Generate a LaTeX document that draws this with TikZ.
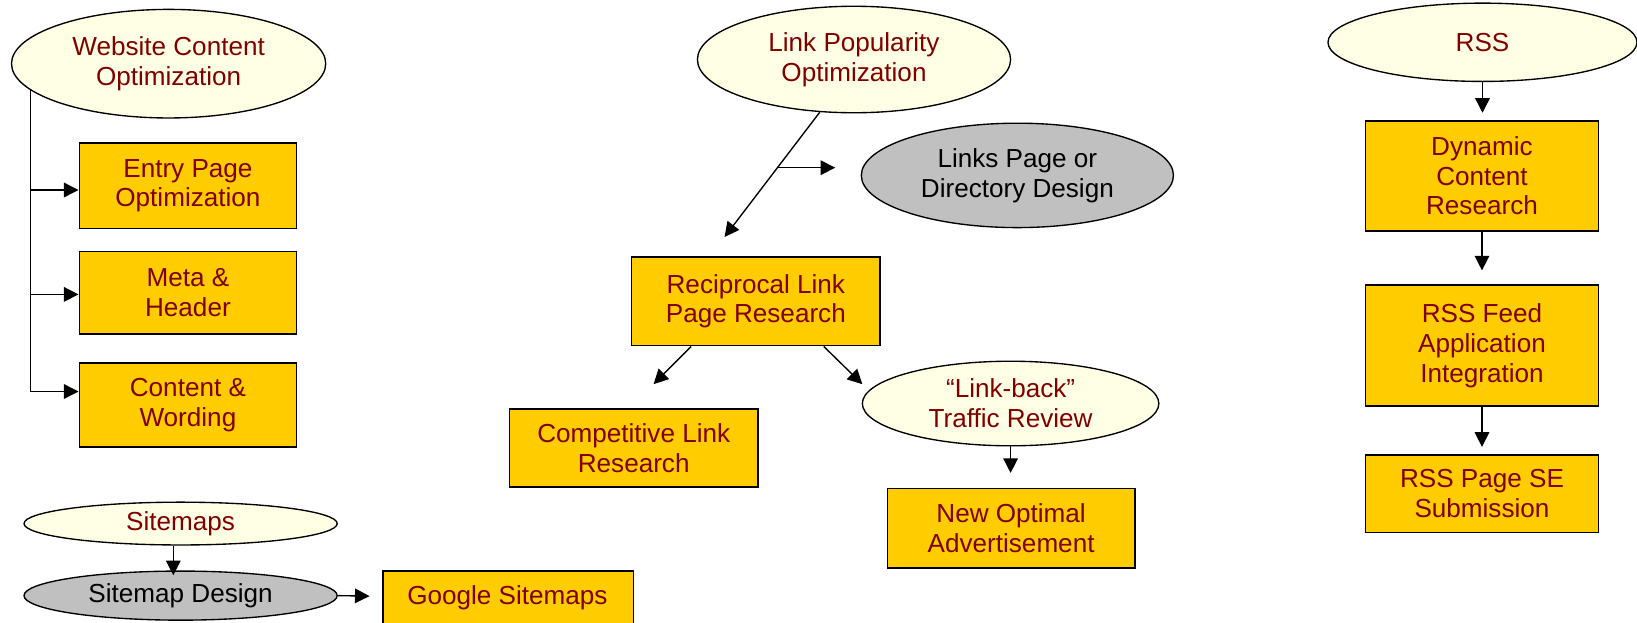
\documentclass[tikz,border=0pt]{standalone}
\usepackage{fontspec}
\setmainfont{Liberation Sans}
\usetikzlibrary{shapes.geometric,arrows.meta,calc}
\definecolor{txtred}{RGB}{128,0,0}
\definecolor{boxfill}{RGB}{255,204,0}
\definecolor{ivory}{RGB}{255,255,229}
\definecolor{grayfill}{RGB}{192,192,192}
\tikzset{
  box/.style={draw=black, line width=1.6pt, fill=boxfill, text=txtred, align=center,
    inner sep=0pt, font=\fontsize{25}{28.5}\selectfont},
  ell/.style={ellipse, draw=black, line width=1.3pt, fill=ivory, text=txtred, align=center,
    inner sep=0pt, font=\fontsize{25}{28.5}\selectfont},
  gell/.style={ell, fill=grayfill, text=black},
  arr/.style={line width=1.3pt, -{Triangle[length=14pt,width=14pt]}},
  ln/.style={line width=1.3pt}
}
\begin{document}
\begin{tikzpicture}[x=1pt,y=-1pt]
\useasboundingbox (0,0) rectangle (1568,596);
% left column
\node[ell, minimum width=301pt, minimum height=104pt] (wco) at (161.5,61) {Website Content\\Optimization};
\node[box, minimum width=208pt, minimum height=82pt] (entry) at (180,178) {Entry Page\\Optimization};
\node[box, minimum width=208pt, minimum height=79pt] (meta) at (180,280.5) {Meta \&\\Header};
\node[box, minimum width=208pt, minimum height=80pt] (content) at (180,388) {Content \&\\Wording};
\coordinate (e1) at ([yshift=-4pt]entry.west);
\coordinate (e2) at ([yshift=-1.5pt]meta.west);
\coordinate (e3) at ([yshift=13pt]content.west);
\draw[ln] (wco.191) -- (wco.191 |- e3);
\draw[arr] (wco.191 |- e1) -- (e1);
\draw[arr] (wco.191 |- e2) -- (e2);
\draw[arr] (wco.191 |- e3) -- (e3);
% sitemaps
\node[ell, minimum width=300pt, minimum height=41pt] (sm) at (173,501.5) {Sitemaps};
\node[gell, minimum width=300pt, minimum height=47pt] (smd) at (173,570.5) {Sitemap Design};
\node[box, minimum width=240pt, minimum height=74pt, anchor=north west] (gs) at (366,546) {};
\node[text=txtred, font=\fontsize{25}{28.5}\selectfont] (gst) at (486,573) {Google Sitemaps};
\coordinate (smtip) at (166,551);
\draw[arr] ([xshift=-7pt]sm.south) -- (smtip);
\coordinate (smdtip) at (354,571);
\draw[arr] (smd.east) -- (smdtip);
% middle column
\node[ell, minimum width=300pt, minimum height=102pt] (lpo) at (818,57) {Link Popularity\\Optimization};
\node[gell, minimum width=299pt, minimum height=100pt] (lpd) at (974.5,168) {Links Page or\\Directory Design};
\node[box, minimum width=238pt, minimum height=85pt] (rec) at (724,288.5) {Reciprocal Link\\Page Research};
\node[box, minimum width=238pt, minimum height=75pt] (comp) at (607,429) {Competitive Link\\Research};
\node[ell, minimum width=284pt, minimum height=81pt] (lb) at (968,386.5) {“Link-back”\\Traffic Review};
\node[box, minimum width=237pt, minimum height=76pt] (nop) at (968.5,506) {New Optimal\\Advertisement};
\coordinate (lpotip) at (694,227);
\draw[arr] (lpo.237) -- (lpotip);
\coordinate (brs) at ($(lpo.237)!0.445!(lpotip)$);
\coordinate (brtip) at (800,161);
\draw[arr] (brs) -- (brs -| brtip);
\coordinate (rl) at (626,368);
\coordinate (rr) at (826,368);
\draw[arr] ([xshift=-62pt]rec.south) -- (rl);
\draw[arr] ([xshift=65pt]rec.south) -- (rr);
\coordinate (lbtip) at (968,453);
\draw[arr] (lb.south) -- (lbtip);
% right column
\node[ell, minimum width=296pt, minimum height=75pt] (rss) at (1420,40.5) {RSS};
\node[box, minimum width=223pt, minimum height=105pt] (dyn) at (1419.5,168.5) {Dynamic\\Content\\Research};
\node[box, minimum width=223pt, minimum height=116pt] (feed) at (1419.5,331) {RSS Feed\\Application\\Integration};
\node[box, minimum width=223pt, minimum height=74pt] (se) at (1419.5,473) {RSS Page SE\\Submission};
\coordinate (t1) at (1420,108);
\coordinate (t2) at (1419.5,259);
\coordinate (t3) at (1419.5,428);
\draw[arr] (rss.south) -- (t1);
\draw[arr] (dyn.south) -- (t2);
\draw[arr] (feed.south) -- (t3);
\end{tikzpicture}
\end{document}
